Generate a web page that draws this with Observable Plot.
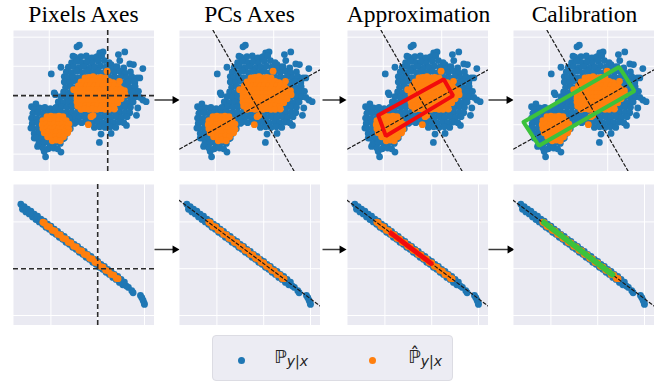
<!DOCTYPE html>
<html><head><meta charset="utf-8">
<script src="https://cdn.jsdelivr.net/npm/d3@7"></script>
<script src="https://cdn.jsdelivr.net/npm/@observablehq/plot@0.6"></script>
<style>
body{margin:0;background:#fff;}
#wrap{position:relative;width:670px;height:383px;overflow:hidden;background:#fff;}
.abs{position:absolute;}
#legend{position:absolute;left:212px;top:335px;width:239px;height:44px;background:#ececf3;border:1px solid #dcdce3;border-radius:4px;font-family:"DejaVu Sans",sans-serif;}
.ldot{position:absolute;width:7px;height:7px;border-radius:50%;top:21px;}
.lab{position:absolute;top:10px;font-size:18px;line-height:22px;color:#222;white-space:nowrap;}
.lab sub{font-style:italic;font-size:14px;vertical-align:-3px;line-height:0;}
</style></head><body><div id="wrap"></div>
<script>
// ---- titles ----
const titles = ["Pixels Axes", "PCs Axes", "Approximation", "Calibration"];
const titleX = [83, 249, 418, 584];

// ---- scatter data (panel units, y measured downward) ----
const topBlue = [
205,52, 198,57, 266,75, 276,72, 341,72, 322,80, 186,85, 232,96, 250,90, 203,100, 326,98, 356,108, 367,110, 395,122,
150,118, 121,138, 160,146, 300,110, 311,117, 180,152, 386,150, 371,165, 130,195, 133,200, 395,216, 405,221, 380,240,
75,228, 62,236, 100,241, 346,292, 376,262, 66,270, 60,300, 70,330, 80,355, 100,370, 104,386, 150,372, 265,343, 270,318,
300,316, 236,286, 170,300, 160,330, 180,270,
192,88, 210,86, 226,84, 242,90, 258,86, 272,84,
182,104, 198,100, 214,104, 228,102, 244,106, 262,100, 280,98, 294,104,
172,118, 188,116, 204,120, 220,116, 236,120, 252,118, 268,114, 284,118, 300,122, 318,116, 338,120,
166,132, 182,134, 198,130, 214,134, 230,130, 246,134, 262,130, 278,134, 294,130, 310,134, 326,130, 342,136, 358,132,
170,148, 186,146, 202,150, 218,146, 234,148, 250,146, 266,150, 282,146, 298,148, 314,150, 330,146, 346,150, 362,146, 378,150,
160,162, 176,164, 192,160, 208,164, 224,160, 240,164, 256,162, 272,160, 288,164, 304,162, 320,160, 336,164, 352,162, 368,160,
164,178, 180,176, 196,180, 212,176, 228,178, 244,176, 260,180, 276,176, 292,178, 308,176, 324,180, 340,176, 356,178, 372,176,
158,192, 174,194, 190,190, 206,194, 222,192, 238,190, 254,194, 270,192, 286,190, 302,194, 318,192, 334,190, 350,194, 366,192, 382,190,
150,206, 166,208, 182,206, 198,208, 214,206, 230,208, 246,206, 262,208, 278,206, 294,208, 310,206, 326,208, 342,206, 358,208, 374,206, 386,208,
142,222, 158,224, 174,222, 190,224, 206,222, 222,224, 238,222, 254,224, 270,222, 286,224, 302,222, 318,224, 334,222, 350,224, 366,222,
136,238, 152,236, 168,238, 184,236, 200,238, 216,236, 232,238, 248,236, 264,238, 280,236, 296,238, 312,236, 328,238, 344,236, 358,238,
150,252, 166,254, 182,252, 198,254, 214,252, 230,254, 246,252, 262,254, 278,252, 294,254, 310,252, 326,254, 342,252, 356,254,
172,268, 188,266, 204,268, 220,266, 236,268, 252,266, 268,268, 284,266, 300,268, 316,266, 332,268, 348,266,
196,282, 212,284, 228,282, 244,284, 260,282, 276,284, 292,282, 308,284, 324,282, 338,284,
250,298, 266,296, 282,298, 298,296, 314,298,
70,244, 86,240, 102,238, 118,242, 134,240,
66,256, 82,254, 98,256, 114,254, 130,256, 146,254, 162,256,
62,270, 78,272, 94,270, 110,272, 126,270, 142,272, 158,270, 174,268,
64,286, 80,284, 96,286, 112,284, 128,286, 144,284, 160,286, 176,284, 190,286,
66,300, 82,302, 98,300, 114,302, 130,300, 146,302, 162,300, 178,302,
70,316, 86,314, 102,316, 118,314, 134,316, 150,314, 166,316,
76,330, 92,332, 108,330, 124,332, 140,330, 156,332,
84,346, 100,344, 116,346, 132,344, 148,346,
96,360, 112,362, 128,360, 140,362
];
const topOrange = [
222,150, 234,148, 246,146, 258,150, 270,148, 282,150,
210,162, 222,160, 234,162, 246,158, 258,162, 270,160, 282,162, 294,160, 306,164,
202,174, 214,172, 226,174, 238,172, 250,174, 262,172, 274,174, 286,172, 298,174, 310,172, 322,176,
198,186, 210,184, 222,186, 234,184, 246,186, 258,184, 270,186, 282,184, 294,186, 306,184, 318,186, 330,184, 340,188,
198,198, 210,196, 222,198, 234,196, 246,198, 258,196, 270,198, 282,196, 294,198, 306,196, 318,198, 330,196, 342,200,
198,210, 210,208, 222,210, 234,208, 246,210, 258,208, 270,210, 282,208, 294,210, 306,208, 318,210, 330,212,
198,222, 210,220, 222,222, 234,220, 246,222, 258,220, 270,222, 282,220, 294,222, 306,220, 320,224,
200,234, 212,232, 224,234, 236,232, 248,234, 260,232, 272,234, 284,232, 296,234, 308,236,
210,244, 222,242, 234,244, 246,242, 258,244, 270,242, 282,244, 294,244,
288,130, 325,160, 188,185, 310,243, 240,266, 246,262, 232,290,
108,266, 120,264, 132,266, 144,264, 156,266,
96,278, 108,276, 120,278, 132,276, 144,278, 156,276, 166,278,
94,290, 106,288, 118,290, 130,288, 142,290, 154,288, 166,290, 174,288,
96,302, 108,300, 120,302, 132,300, 144,302, 156,300, 168,302, 174,304,
100,314, 112,312, 124,314, 136,312, 148,314, 160,312, 170,314,
110,326, 122,324, 134,326, 146,324, 158,326,
124,338, 136,336, 148,338
];
const botBlue = [
30,67, 35,82, 40,74, 45,90, 50,82, 55,96, 60,88, 65,105, 70,97, 75,113, 80,103, 85,120, 90,112, 95,127,
100,118, 105,136, 110,127, 115,142, 120,133, 125,151, 130,142, 135,157, 140,148, 145,166, 150,157, 155,172,
160,163, 165,181, 170,172, 175,187, 180,178, 185,196, 190,187, 195,202, 200,193, 205,211, 210,202, 215,217,
220,208, 225,226, 230,217, 235,232, 240,223, 245,241, 250,232, 255,247, 260,238, 265,256, 270,247, 275,262,
280,253, 285,271, 290,262, 295,277, 300,268, 305,286, 310,277, 315,292, 320,283, 325,301, 330,292, 335,308,
340,300, 346,312, 352,316, 362,326, 366,332, 388,340, 392,347, 396,355, 399,363, 400,367, 36,76, 48,84, 58,93
];
const botOrange = [
96,121, 100,123, 108,133, 116,135, 124,145, 132,147, 140,157, 148,159, 156,169, 164,171, 172,181, 180,183,
188,193, 196,195, 204,205, 212,207, 220,217, 228,219, 236,229, 244,231, 252,241, 260,243, 268,253, 276,255,
284,265, 292,267, 300,277, 308,279, 316,289, 321,290
];

// ---- axes / overlays ----
const gridTop = {x: [115, 290], y: [28, 115, 203, 290, 378]};
const gridBot = {x: [120, 260, 400], y: [120, 260, 400]};
const pixAxesTop = {x: 290, y: 203};
const pixAxesBot = {x: 260, y: 260};
const pc1Top = [[-20, 379], [460, 108]];
const pc2Top = [[100, -7], [362, 448]];
const pc1Bot = [[-20, 35], [460, 395]];
const approxTop = [[100, 262], [296, 154], [324, 203], [123, 324]];
const calibTop = [[38, 282], [324, 117], [370, 189], [84, 353]];
const approxBot = [[138, 150], [263, 244], [259, 248], [134, 154]];
const calibBot = [[98, 116], [310, 277], [304, 283], [94, 123]];

const panelLeft = [12.7, 178.7, 347, 513.3];
const rowTop = [29.7, 184.3];

const pairs = a => { const r = []; for (let i = 0; i < a.length; i += 2) r.push([a[i], a[i + 1]]); return r; };
const close = p => [...p, p[0]];

const BLUE = "#1f77b4", ORANGE = "#ff7f0e";

function panel(blue, orange, grid, extra) {
  return Plot.plot({
    width: 141, height: 141, margin: 0,
    style: {background: "transparent", overflow: "hidden"},
    x: {domain: [8, 430], axis: null},
    y: {domain: [8, 430], reverse: true, axis: null},
    marks: [
      Plot.frame({fill: "#eaeaf2", stroke: null}),
      Plot.ruleX(grid.x, {stroke: "#fff", strokeWidth: 1}),
      Plot.ruleY(grid.y, {stroke: "#fff", strokeWidth: 1}),
      Plot.dot(pairs(blue), {x: d => d[0], y: d => d[1], r: 3.4, fill: BLUE, stroke: null}),
      Plot.dot(pairs(orange), {x: d => d[0], y: d => d[1], r: 3.4, fill: ORANGE, stroke: null}),
      ...extra
    ]
  });
}
const dashAx = {stroke: "#2b2b2b", strokeWidth: 1.6, strokeDasharray: "5,3"};
const pcLine = pts => Plot.line(pts, {x: d => d[0], y: d => d[1], stroke: "#1a1a1a", strokeWidth: 1.2, strokeDasharray: "3,2.5", clip: true});
const poly = (pts, color, w) => Plot.line(close(pts), {x: d => d[0], y: d => d[1], stroke: color, strokeWidth: w, strokeLinejoin: "miter", clip: true});

const RED = "#f20c0c", GREEN = "#3cc23c";

const wrap = document.getElementById("wrap");

// overlay: titles and arrows
const arrowY = [99.5, 99.5, 99.5, 249, 249, 249];
const arrowX1 = [154, 322, 488, 154, 322, 488];
const arrowTip = [178, 345, 512, 178, 345, 513];
const arrows = arrowX1.map((x, i) => ({x1: x, x2: arrowTip[i] - 5, tip: arrowTip[i] - 3.6, y: arrowY[i]}));
const overlay = Plot.plot({
  width: 670, height: 383, margin: 0,
  style: {background: "transparent"},
  x: {domain: [0, 670], axis: null},
  y: {domain: [0, 383], reverse: true, axis: null},
  marks: [
    Plot.text(titles, {x: (d, i) => titleX[i], y: 14, text: d => d, fontSize: 23.5, fontFamily: "Liberation Serif", fill: "#000"}),
    Plot.link(arrows, {x1: "x1", x2: "x2", y1: "y", y2: "y", stroke: "#3a3a3a", strokeWidth: 1.5}),
    Plot.dot(arrows, {x: "tip", y: "y", symbol: "triangle", rotate: 90, r: 3, fill: "#000", stroke: null})
  ]
});
overlay.classList.add("abs");
overlay.style.left = "0px"; overlay.style.top = "0px";
wrap.appendChild(overlay);

const extrasTop = [
  [Plot.ruleX([pixAxesTop.x], dashAx), Plot.ruleY([pixAxesTop.y], dashAx)],
  [pcLine(pc1Top), pcLine(pc2Top)],
  [pcLine(pc1Top), pcLine(pc2Top), poly(approxTop, RED, 4)],
  [pcLine(pc1Top), pcLine(pc2Top), poly(calibTop, GREEN, 4)]
];
const extrasBot = [
  [Plot.ruleX([pixAxesBot.x], dashAx), Plot.ruleY([pixAxesBot.y], dashAx)],
  [pcLine(pc1Bot)],
  [pcLine(pc1Bot), poly(approxBot, RED, 3)],
  [pcLine(pc1Bot), poly(calibBot, GREEN, 3)]
];
for (let i = 0; i < 4; i++) {
  const a = panel(topBlue, topOrange, gridTop, extrasTop[i]);
  a.classList.add("abs"); a.style.left = panelLeft[i] + "px"; a.style.top = rowTop[0] + "px";
  wrap.appendChild(a);
  const b = panel(botBlue, botOrange, gridBot, extrasBot[i]);
  b.classList.add("abs"); b.style.left = panelLeft[i] + "px"; b.style.top = rowTop[1] + "px";
  wrap.appendChild(b);
}

// legend
const legendLabels = ["ℙ", "ℙ\u0302"];
const legendColors = [BLUE, ORANGE];
const lg = document.createElement("div");
lg.id = "legend";
lg.innerHTML =
  `<span class="ldot" style="left:25px;background:${legendColors[0]}"></span>` +
  `<span class="lab" style="left:61px">${legendLabels[0]}<sub>y|x</sub></span>` +
  `<span class="ldot" style="left:156px;background:${legendColors[1]}"></span>` +
  `<span class="lab" style="left:195px">${legendLabels[1]}<sub>y|x</sub></span>`;
wrap.appendChild(lg);
</script></body></html>
